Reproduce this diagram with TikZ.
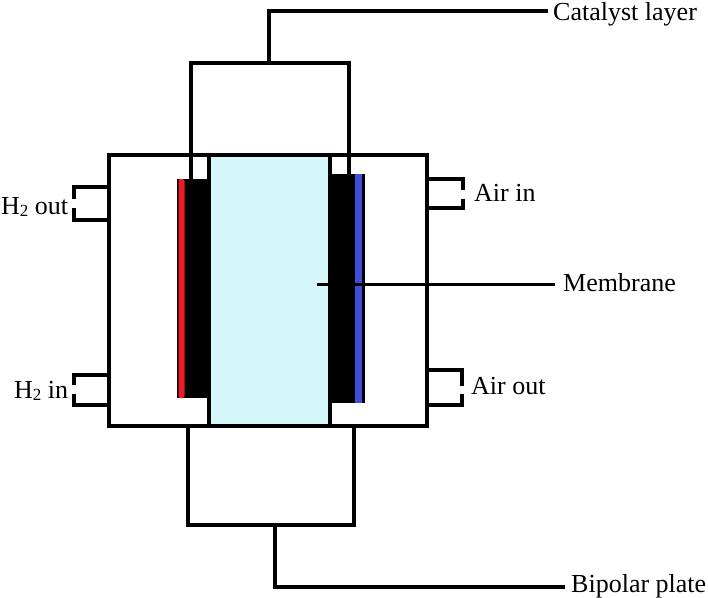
\documentclass[tikz,border=0pt]{standalone}
\usepackage{fontspec}
\setmainfont{Liberation Serif}
\definecolor{memb}{HTML}{D6F7FA}
\definecolor{anode}{HTML}{EE1C25}
\definecolor{cathode}{HTML}{3F4FD8}
\newcommand{\subtwo}{\raisebox{-0.1em}{\fontsize{17}{17}\selectfont 2}}
\tikzset{
  x=1pt,y=-1pt,
  wire/.style={draw=black,line width=3.4pt,line join=miter,line cap=rect},
  thinwire/.style={draw=black,line width=3pt},
  lab/.style={font=\fontsize{26}{28}\selectfont,inner sep=0pt,anchor=base west,text=black},
}
\begin{document}
\begin{tikzpicture}
\useasboundingbox (0,0) rectangle (708,597);
% plates
\draw[wire] (109,155) rectangle (427,426);
\node[draw=black,line width=3.4pt,fill=memb,minimum width=121pt,minimum height=271pt,inner sep=0pt] (membrane) at (269.5,290.5) {};
% electrodes
\fill[black] (177,179) rectangle (209,398);
\fill[anode,rounded corners=2pt] (178.5,179) rectangle (184.5,398);
\fill[black] (330,174) rectangle (355,403);
\fill[cathode] (355,174) rectangle (362,403);
\fill[black] (362,174) rectangle (365,403);
% named points
\coordinate (catL) at (191,179);
\coordinate (catR) at (349,174);
\coordinate (catLT) at (191,63);
\coordinate (catRT) at (349,63);
\coordinate (catM) at (269,63);
\coordinate (catTop) at (269,11);
\coordinate (catEnd) at (546,11);
\coordinate (bipL) at (188,426);
\coordinate (bipR) at (354,426);
\coordinate (bipLB) at (188,525);
\coordinate (bipRB) at (354,525);
\coordinate (bipM) at (275,525);
\coordinate (bipBot) at (275,587);
\coordinate (bipEnd) at (563,587);
\coordinate (membIn) at (317,284);
\coordinate (membEnd) at (555,284);
% labels
\node[lab] (catalyst) at (553,20) {Catalyst layer};
\node[lab] (membr) at (563,291) {Membrane};
\node[lab] (bipolar) at (571,592) {Bipolar plate};
\node[lab] (h2out) at (1,214) {H\subtwo{} out};
\node[lab] (h2in) at (14,398) {H\subtwo{} in};
\node[lab] (airin) at (474,201) {Air in};
\node[lab] (airout) at (471,394) {Air out};
% leaders
\draw[wire] (catL) -- (catLT) -- (catRT) -- (catR);
\draw[wire] (catM) -- (catTop) -- (catEnd);
\draw[wire] (bipL) -- (bipLB) -- (bipRB) -- (bipR);
\draw[wire] (bipM) -- (bipBot) -- (bipEnd);
\draw[thinwire] (membIn) -- (membEnd);
% ports
\draw[wire] (109,187) -- (74,187) -- (74,197);
\draw[wire] (109,220) -- (74,220) -- (74,210);
\draw[wire] (109,375) -- (74,375) -- (74,383);
\draw[wire] (109,405) -- (74,405) -- (74,396);
\draw[wire] (427,179) -- (463,179) -- (463,188);
\draw[wire] (427,208) -- (463,208) -- (463,201);
\draw[wire] (427,370) -- (462,370) -- (462,384);
\draw[wire] (427,405) -- (462,405) -- (462,396);
\end{tikzpicture}
\end{document}
